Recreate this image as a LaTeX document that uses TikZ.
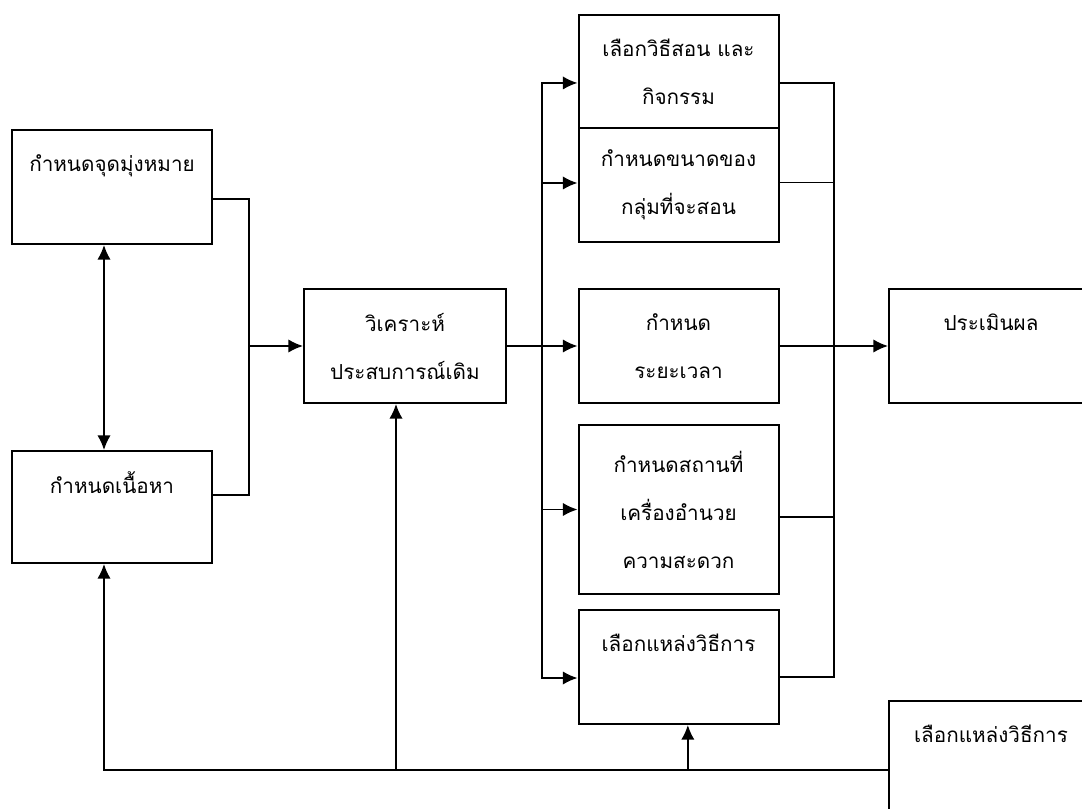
\documentclass[tikz,border=0pt]{standalone}
\usepackage{fontspec}
\newfontfamily\thaifont[Script=Thai]{Loma}
\usetikzlibrary{arrows.meta}

\begin{document}
\begin{tikzpicture}[->,>={Latex[length=11pt,width=10pt]},line width=1.2pt,x=0.75pt,y=-0.75pt,
  box/.style={draw,rectangle,line width=1.5pt,minimum width=150pt,minimum height=85.5pt,
    inner sep=0pt,align=center,font=\thaifont\fontsize{15.5}{36}\selectfont}]
  \clip (0,0) rectangle (1082,809);
  % left column
  \node[box] (aim) at (112,187) {กำหนดจุดมุ่งหมาย\\ \mbox{}};
  \node[box,minimum height=84pt] (content) at (112,507) {กำหนดเนื้อหา\\ \mbox{}};
  \node[box,minimum width=151.5pt] (prior) at (405,346) {วิเคราะห์\\ประสบการณ์เดิม};
  % middle column
  \node[box,minimum height=84.75pt] (method) at (678.5,71.5) {เลือกวิธีสอน และ\\กิจกรรม};
  \node[box] (group) at (678.5,185) {กำหนดขนาดของ\\กลุ่มที่จะสอน};
  \node[box] (time) at (678.5,346) {กำหนด\\ระยะเวลา};
  \node[box,minimum height=126.75pt] (place) at (678.5,509.5) {กำหนดสถานที่\\เครื่องอำนวย\\ความสะดวก};
  \node[box] (source) at (678.5,667) {เลือกแหล่งวิธีการ\\ \mbox{}};
  % right column
  \node[box,minimum width=153pt] (eval) at (991,346) {ประเมินผล\\ \mbox{}};
  \node[box,minimum width=153pt] (feed) at (991,758) {เลือกแหล่งวิธีการ\\ \mbox{}};
  \coordinate (jl) at (249,346);
  \coordinate (bus) at (542,346);
  \coordinate (busr) at (834,346);

  \draw[<->] ([xshift=-6pt]aim.south) -- ([xshift=-6pt]content.north);
  \draw[-] ([yshift=-9pt]aim.east) -| (jl) |- ([yshift=9pt]content.east);
  \draw (jl) -- (prior);
  \draw (prior) -- (time);
  \draw (bus) |- ([yshift=-8.6pt]method.west);
  \draw (bus) |- ([yshift=1.5pt]group.west);
  \draw (bus) |- (place.west);
  \draw (bus) |- ([yshift=-8.25pt]source.west);
  \draw[-] ([yshift=-8.6pt]method.east) -| (busr);
  \draw[-] ([yshift=2pt]group.east) -| (busr);
  \draw[-] ([yshift=-5.6pt]place.east) -| (busr);
  \draw[-] ([yshift=-7.5pt]source.east) -| (busr);
  \draw (time) -- (eval);
  \draw ([yshift=-9pt]feed.west) -| ([xshift=-6pt]content.south);
  \draw ([yshift=-9pt]feed.west) -| ([xshift=-6.75pt]prior.south);
  \draw ([yshift=-9pt]feed.west) -| ([xshift=7pt]source.south);
\end{tikzpicture}
\end{document}
